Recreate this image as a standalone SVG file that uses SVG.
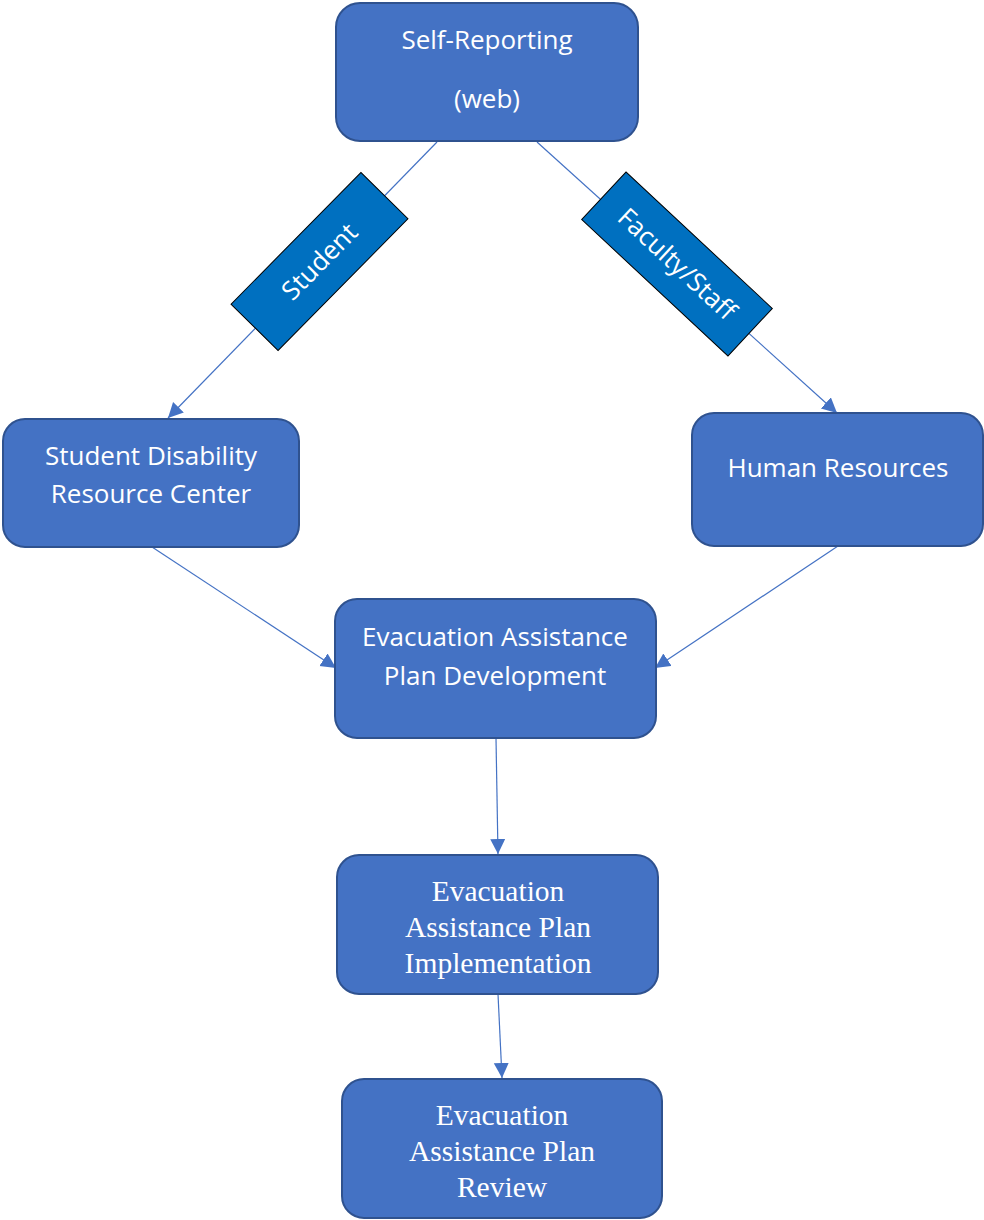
<svg xmlns="http://www.w3.org/2000/svg" width="984" height="1220" viewBox="0 0 984 1220">
<style>
.box{fill:#4472C4;stroke:#2F528F;stroke-width:2}
.tag{fill:#0070C0;stroke:#000;stroke-width:1}
.sans{font-family:"Open Sans","Noto Sans",sans-serif;font-size:26px;fill:#fff;text-anchor:middle}
.serif{font-family:"Liberation Serif","Times New Roman",serif;font-size:29.5px;fill:#fff;text-anchor:middle}
.conn{stroke:#4472C4;stroke-width:1.2;fill:none;marker-end:url(#arr)}
</style>
<defs>
<marker id="arr" markerUnits="userSpaceOnUse" markerWidth="17" markerHeight="17" refX="15" refY="7.5" orient="auto">
<path d="M0,0 L15,7.5 L0,15 z" fill="#4472C4"/>
</marker>
</defs>
<rect width="984" height="1220" fill="#fff"/>
<g id="connectors">
<line class="conn" x1="437" y1="142" x2="168" y2="418"/>
<line class="conn" x1="537" y1="142" x2="837" y2="413"/>
<line class="conn" x1="152" y1="547" x2="336" y2="668"/>
<line class="conn" x1="838" y1="546" x2="655" y2="668"/>
<line class="conn" x1="496" y1="738" x2="498" y2="854"/>
<line class="conn" x1="498" y1="994" x2="502" y2="1078"/>
</g>
<g id="self-reporting">
<rect class="box" x="336" y="3" width="302" height="138" rx="24"/>
<text class="sans" x="487" y="49">Self-Reporting</text>
<text class="sans" x="487" y="108">(web)</text>
</g>
<g id="student-label">
<rect class="tag" x="-92.5" y="-33" width="185" height="66" transform="translate(319.5,261.5) rotate(-45.4)"/>
<text class="sans" x="0" y="9" transform="translate(319.5,261.5) rotate(-45.4)">Student</text>
</g>
<g id="faculty-label">
<rect class="tag" x="-100" y="-32.5" width="200" height="65" transform="translate(677,264) rotate(43)"/>
<text class="sans" x="0" y="9" transform="translate(677,264) rotate(43)">Faculty/Staff</text>
</g>
<g id="sdrc">
<rect class="box" x="3" y="419" width="296" height="128" rx="22"/>
<text class="sans" x="151" y="465">Student Disability</text>
<text class="sans" x="151" y="503">Resource Center</text>
</g>
<g id="hr">
<rect class="box" x="692" y="413" width="291" height="133" rx="22"/>
<text class="sans" x="838" y="477">Human Resources</text>
</g>
<g id="development">
<rect class="box" x="335" y="599" width="321" height="139" rx="22"/>
<text class="sans" x="495" y="646">Evacuation Assistance</text>
<text class="sans" x="495" y="685">Plan Development</text>
</g>
<g id="implementation">
<rect class="box" x="337" y="855" width="321" height="139" rx="22"/>
<text class="serif" x="498" y="901">Evacuation</text>
<text class="serif" x="498" y="937">Assistance Plan</text>
<text class="serif" x="498" y="973">Implementation</text>
</g>
<g id="review">
<rect class="box" x="342" y="1079" width="320" height="139" rx="22"/>
<text class="serif" x="502" y="1125">Evacuation</text>
<text class="serif" x="502" y="1161">Assistance Plan</text>
<text class="serif" x="502" y="1197">Review</text>
</g>
</svg>
